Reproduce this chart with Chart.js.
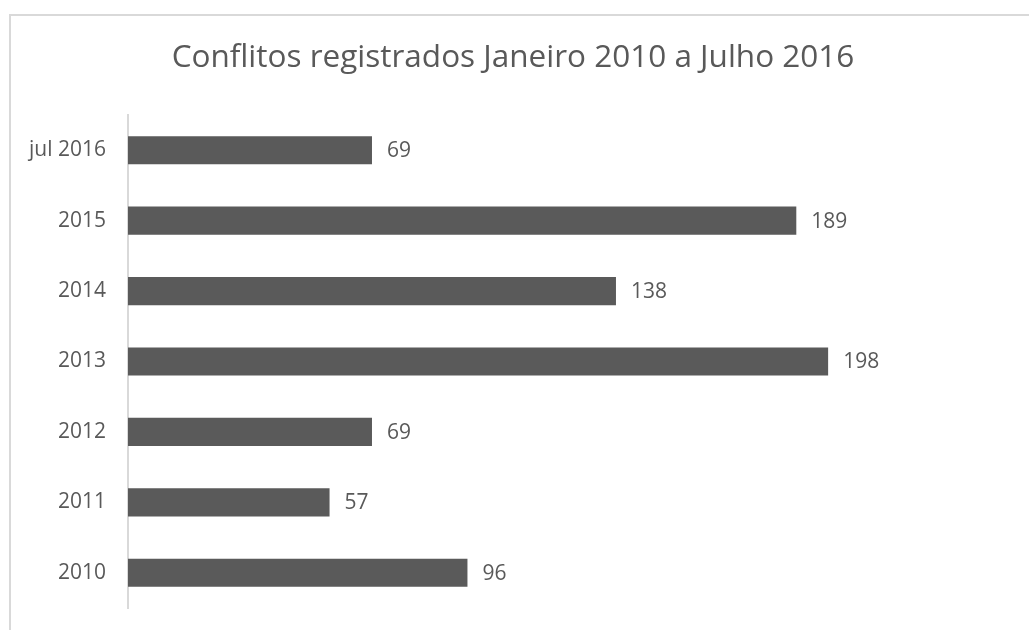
<!DOCTYPE html>
<html>
<head>
<meta charset="utf-8">
<script src="https://cdn.jsdelivr.net/npm/chart.js@4.4.1/dist/chart.umd.min.js"></script>
<style>
  html, body { margin: 0; padding: 0; background: #fff; overflow: hidden; }
  #frame {
    position: absolute; left: 9px; top: 14px; width: 1100px; height: 700px;
    border-top: 2px solid #d9d9d9; border-left: 2px solid #d9d9d9;
  }
  #wrap { position: absolute; left: 0; top: 0; width: 1029px; height: 630px; }
</style>
</head>
<body>
<div id="frame"></div>
<div id="wrap"><canvas id="chart" width="1029" height="630"></canvas></div>
<script>
// data, top to bottom
const categories = ["jul 2016", "2015", "2014", "2013", "2012", "2011", "2010"];
const conflitos = [69, 189, 138, 198, 69, 57, 96];

const textColor = "#595959";
const barColor = "#5a5a5a";

// value labels at the end of each bar
const valueLabels = {
    id: "valueLabels",
    afterDatasetsDraw(chart) {
        const ctx = chart.ctx;
        const meta = chart.getDatasetMeta(0);
        ctx.save();
        ctx.font = "21px 'Open Sans'";
        ctx.fillStyle = textColor;
        ctx.textAlign = "left";
        ctx.textBaseline = "middle";
        meta.data.forEach((bar, i) => {
            ctx.fillText(String(conflitos[i]), bar.x + 15, bar.y + 1);
        });
        ctx.restore();
    }
};

new Chart(document.getElementById("chart"), {
    type: "bar",
    data: {
        labels: categories,
        datasets: [{
            data: conflitos,
            backgroundColor: barColor,
            barPercentage: 0.8,
            categoryPercentage: 0.5
        }]
    },
    options: {
        indexAxis: "y",
        responsive: false,
        animation: false,
        layout: { padding: { top: 0, left: 14, right: 17, bottom: 22 } },
        plugins: {
            legend: { display: false },
            tooltip: { enabled: false },
            title: {
                display: true,
                text: "Conflitos registrados Janeiro 2010 a Julho 2016",
                color: textColor,
                font: { family: "'Open Sans'", size: 31.5, weight: "normal", lineHeight: 1.2 },
                padding: { top: 39, bottom: 38.2 }
            }
        },
        scales: {
            x: { display: false, min: 0, max: 250 },
            y: {
                grid: { display: false, drawTicks: false },
                border: { display: true, color: "#d9d9d9", width: 2 },
                ticks: {
                    color: textColor,
                    font: { family: "'Open Sans'", size: 21 },
                    padding: 22
                },
                afterFit(scale) {
                    scale.width = 114;
                    scale.paddingTop = 0;
                    scale.paddingBottom = 0;
                }
            }
        }
    },
    plugins: [valueLabels]
});
</script>
</body>
</html>
